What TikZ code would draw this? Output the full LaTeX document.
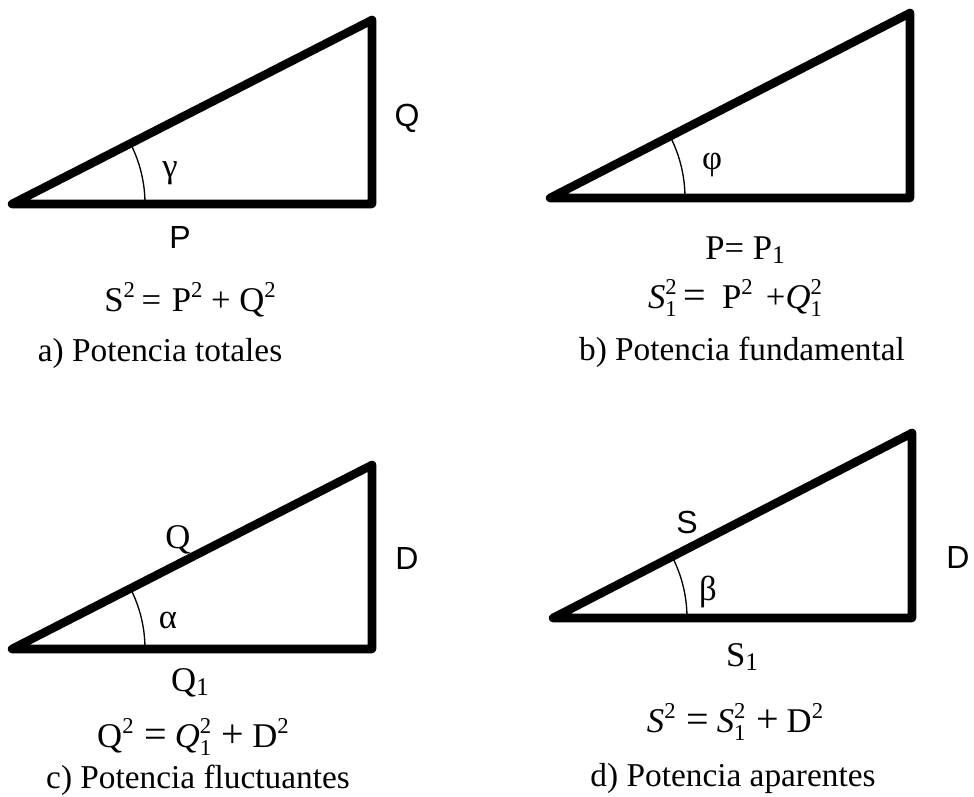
\documentclass[tikz,border=0pt]{standalone}
\usepackage{fontspec}
\usetikzlibrary{calc}
\setmainfont{Liberation Serif}
\newfontfamily\lsans{Liberation Sans}
\newcommand\supsc[1]{\raisebox{0.42em}{\fontsize{17}{17}\selectfont #1}}
\newcommand\subsupsc[2]{\rlap{\raisebox{0.42em}{\fontsize{17}{17}\selectfont #2}}\raisebox{-0.22em}{\fontsize{17}{17}\selectfont #1}}
\newcommand\lowsub[1]{\raisebox{-0.12em}{\fontsize{19}{19}\selectfont #1}}
\tikzset{
  tri/.style={line width=6.4pt, line join=round, line cap=round},
  anglearc/.style={line width=1pt},
  sidelbl/.style={font=\fontsize{24}{24}\selectfont\lsans, inner sep=0pt},
  greek/.style={font=\fontsize{26}{26}\selectfont, inner sep=0pt},
  serlbl/.style={font=\fontsize{26}{26}\selectfont, inner sep=0pt},
  eqn/.style={font=\fontsize{26}{26}\selectfont, inner sep=0pt},
  capt/.style={font=\fontsize{25}{25}\selectfont, inner sep=0pt}
}
\begin{document}
\begin{tikzpicture}[x=0.75pt,y=0.75pt]
\useasboundingbox (0,0) rectangle (974,796);
\fill[white] (0,0) rectangle (974,796);

% a)
\coordinate (aA) at (12,592);
\coordinate (aB) at (372,592);
\coordinate (aC) at (372,776);
\draw[tri] (aA) -- (aB) -- (aC) -- cycle;
\draw[anglearc] ($(aA)+(133,0)$) arc[start angle=0,end angle=27.07,radius=99.75pt];
\node[greek] (ag) at (170,623) {γ};
\node[sidelbl] (aQ) at (407,678) {Q};
\node[sidelbl] (aP) at (180,559) {P};
\node[eqn] (aeq) at (190,496) {S\supsc{2}\hspace{5pt}=\hspace{8pt}P\supsc{2} + Q\supsc{2}};
\node[capt] (acap) at (160,443) {a) Potencia totales};

% b)
\coordinate (bA) at (550,598);
\coordinate (bB) at (910,598);
\coordinate (bC) at (910,783);
\draw[tri] (bA) -- (bB) -- (bC) -- cycle;
\draw[anglearc] ($(bA)+(135,0)$) arc[start angle=0,end angle=27.2,radius=101.25pt];
\node[greek] (bphi) at (712,631) {φ};
\node[serlbl] (bP) at (745,546) {P= P\lowsub{1}};
\node[eqn] (beq) at (735,498) {\textit{S}\subsupsc{1}{2}\hspace{5pt}{\fontsize{30}{30}\selectfont =}\hspace{12pt}P\supsc{2}\hspace{10pt}+\textit{Q}\subsupsc{1}{2}};
\node[capt] (bcap) at (742,444) {b) Potencia fundamental};

% c)
\coordinate (cA) at (12,147);
\coordinate (cB) at (372,147);
\coordinate (cC) at (372,331);
\draw[tri] (cA) -- (cB) -- (cC) -- cycle;
\draw[anglearc] ($(cA)+(133,0)$) arc[start angle=0,end angle=27.07,radius=99.75pt];
\node[serlbl] (cQ) at (178,256) {Q};
\node[sidelbl] (cD) at (407,238) {D};
\node[greek] (calpha) at (168,176) {α};
\node[serlbl] (cQ1) at (190,113) {Q\lowsub{1}};
\node[eqn] (ceq) at (193,59) {Q\supsc{2}\hspace{8pt}{\fontsize{30}{30}\selectfont =}\hspace{6pt}\textit{Q}\subsupsc{1}{2}\hspace{8pt}{\fontsize{30}{30}\selectfont +}\hspace{6pt}D\supsc{2}};
\node[capt] (ccap) at (198,16) {c) Potencia fluctuantes};

% d)
\coordinate (dA) at (553,178);
\coordinate (dB) at (912,178);
\coordinate (dC) at (912,363);
\draw[tri] (dA) -- (dB) -- (dC) -- cycle;
\draw[anglearc] ($(dA)+(134,0)$) arc[start angle=0,end angle=27.3,radius=100.5pt];
\node[sidelbl] (dS) at (687,274) {S};
\node[sidelbl] (dD) at (958,239) {D};
\node[greek] (dbeta) at (708,204) {β};
\node[serlbl] (dS1) at (742,139) {S\lowsub{1}};
\node[eqn] (deq) at (735,74) {\textit{S}\supsc{2}\hspace{8pt}{\fontsize{30}{30}\selectfont =}\hspace{6pt}\textit{S}\subsupsc{1}{2}\hspace{8pt}{\fontsize{30}{30}\selectfont +}\hspace{6pt}D\supsc{2}};
\node[capt] (dcap) at (733,18) {d) Potencia aparentes};
\end{tikzpicture}
\end{document}
